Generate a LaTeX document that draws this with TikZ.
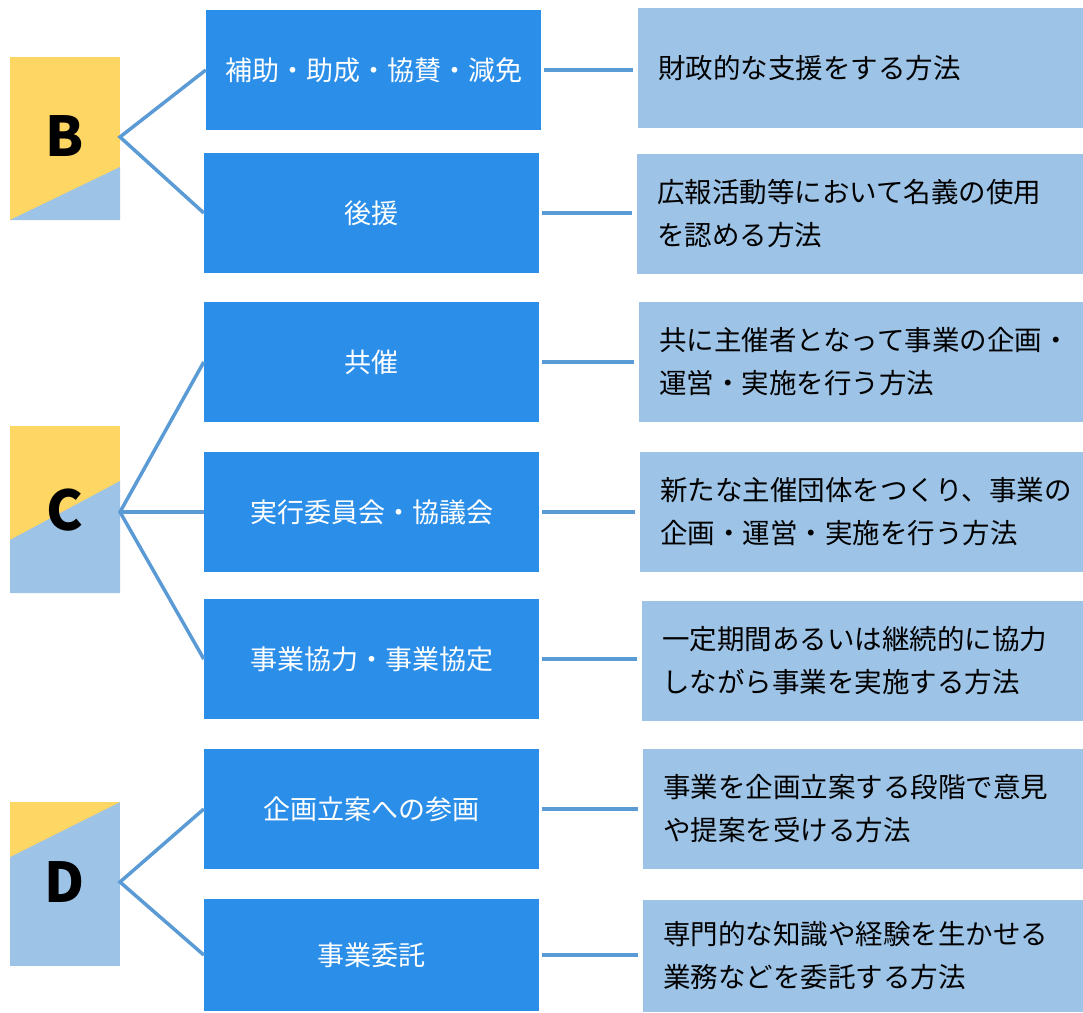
\documentclass[tikz,border=0pt]{standalone}
\usepackage{fontspec}
\setmainfont{Noto Sans CJK JP}
\definecolor{catblue}{HTML}{2B8FE9}
\definecolor{descblue}{HTML}{9DC3E6}
\definecolor{tagyellow}{HTML}{FDD663}
\definecolor{linkblue}{HTML}{5B9BD5}
\begin{document}
\begin{tikzpicture}[x=1pt,y=-1pt]
		\tikzset{catbox/.style = {shape=rectangle,fill=catblue,text=white,minimum width=335pt,minimum height=120pt,inner sep=0pt,font=\fontsize{27}{32}\selectfont}}
		\tikzset{descbox/.style = {shape=rectangle,fill=descblue,anchor=west,text width=405pt,minimum height=120pt,inner xsep=20pt,inner ysep=0pt,align=left,font=\fontsize{27.5}{43}\selectfont}}
		\tikzset{tag/.style = {font=\fontsize{55}{60}\selectfont\bfseries}}
		\tikzset{link/.style = {draw=linkblue,line width=3.5pt}}
		\useasboundingbox (0,0) rectangle (1083,1012);
		% letter tags
		\fill[tagyellow] (10,57) rectangle (120,220);
		\fill[descblue] (10,220) -- (120,167) -- (120,220) -- cycle;
		\fill[tagyellow] (10,426) rectangle (120,593);
		\fill[descblue] (10,540) -- (120,481) -- (120,593) -- (10,593) -- cycle;
		\fill[descblue] (10,802) rectangle (120,966);
		\fill[tagyellow] (10,802) -- (120,802) -- (10,857) -- cycle;
		\node[tag] (b) at (65,136) {B};
		\node[tag] (c) at (65,510) {C};
		\node[tag] (d) at (65,882) {D};
		\coordinate (jb) at (120,137);
		\coordinate (jc) at (120,512);
		\coordinate (jd) at (120,882);
		% categories
		\node[catbox] (cat1) at (373.5,70) {補助・助成・協賛・減免};
		\node[catbox] (cat2) at (371.5,213) {後援};
		\node[catbox] (cat3) at (371.5,362) {共催};
		\node[catbox] (cat4) at (371.5,512) {実行委員会・協議会};
		\node[catbox] (cat5) at (371.5,659) {事業協力・事業協定};
		\node[catbox] (cat6) at (371.5,809) {企画立案への参画};
		\node[catbox,minimum height=112pt] (cat7) at (371.5,955) {事業委託};
		% descriptions
		\node[descbox] (desc1) at (638,68) {財政的な支援をする方法};
		\node[descbox,text width=406pt] (desc2) at (637,214) {広報活動等において名義の使用\\を認める方法};
		\node[descbox,text width=404pt] (desc3) at (639,362) {共に主催者となって事業の企画・\\運営・実施を行う方法};
		\node[descbox,text width=403pt] (desc4) at (640,512) {新たな主催団体をつくり、事業の\\企画・運営・実施を行う方法};
		\node[descbox,text width=401pt] (desc5) at (642,661) {一定期間あるいは継続的に協力\\しながら事業を実施する方法};
		\node[descbox,text width=400pt] (desc6) at (643,809) {事業を企画立案する段階で意見\\や提案を受ける方法};
		\node[descbox,text width=400pt,minimum height=112pt] (desc7) at (643,956) {専門的な知識や経験を生かせる\\業務などを委託する方法};
		% links
		\draw[link] (cat1.west) -- (jb) -- (cat2.west);
		\draw[link] (cat3.west) -- (jc) -- (cat5.west);
		\draw[link] (jc) -- (cat4.west);
		\draw[link] (cat6.west) -- (jd) -- (cat7.west);
		\foreach \i in {1,...,7}
			\draw[link,shorten <=3pt,shorten >=5pt] (cat\i.east) -- (cat\i.east -| desc\i.west);
	\end{tikzpicture}
\end{document}
